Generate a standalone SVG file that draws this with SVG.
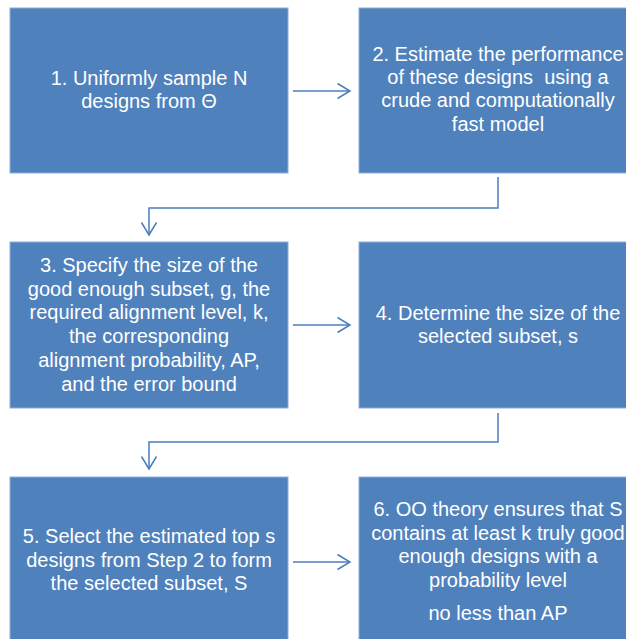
<svg xmlns="http://www.w3.org/2000/svg" width="626" height="639" viewBox="0 0 626 639">
<style>
.box{fill:#4F81BD;stroke:#8FAEDB;stroke-width:1}
.t{font-family:"Liberation Sans",Arial,sans-serif;font-size:20px;fill:#FFFFFF;text-anchor:middle}
.c{fill:none;stroke:#4A7EBB;stroke-width:1.5}
</style>
<defs>
<marker id="arr" viewBox="0 0 16 18" refX="14" refY="9" markerWidth="16" markerHeight="18" markerUnits="userSpaceOnUse" orient="auto">
<path d="M1.5,1.5 L14,9 L1.5,16.5" fill="none" stroke="#4A7EBB" stroke-width="1.5"/>
</marker>
</defs>
<rect width="626" height="639" fill="#FFFFFF"/>
<g id="node1">
<rect class="box" x="10" y="8" width="278" height="165"/>
<text class="t"><tspan x="149" y="85">1. Uniformly sample N</tspan><tspan x="149" y="108">designs from Θ</tspan></text>
</g>
<g id="node2">
<rect class="box" x="359" y="8" width="278" height="165"/>
<text class="t" xml:space="preserve"><tspan x="498" y="61">2. Estimate the performance</tspan><tspan x="498" y="84">of these designs  using a</tspan><tspan x="498" y="107">crude and computationally</tspan><tspan x="498" y="131">fast model</tspan></text>
</g>
<g id="node3">
<rect class="box" x="10" y="242" width="278" height="166"/>
<text class="t"><tspan x="149" y="272">3. Specify the size of the</tspan><tspan x="149" y="296">good enough subset, g, the</tspan><tspan x="149" y="319">required alignment level, k,</tspan><tspan x="149" y="343">the corresponding</tspan><tspan x="149" y="367">alignment probability, AP,</tspan><tspan x="149" y="391">and the error bound</tspan></text>
</g>
<g id="node4">
<rect class="box" x="359" y="242" width="278" height="166"/>
<text class="t"><tspan x="498" y="320">4. Determine the size of the</tspan><tspan x="498" y="343">selected subset, s</tspan></text>
</g>
<g id="node5">
<rect class="box" x="10" y="477" width="278" height="170"/>
<text class="t"><tspan x="149" y="543">5. Select the estimated top s</tspan><tspan x="149" y="567">designs from Step 2 to form</tspan><tspan x="149" y="590">the selected subset, S</tspan></text>
</g>
<g id="node6">
<rect class="box" x="359" y="477" width="278" height="170"/>
<text class="t"><tspan x="498" y="516">6. OO theory ensures that S</tspan><tspan x="498" y="540">contains at least k truly good</tspan><tspan x="498" y="563">enough designs with a</tspan><tspan x="498" y="587">probability level</tspan><tspan x="498" y="620">no less than AP</tspan></text>
</g>
<g id="connectors">
<path class="c" d="M293,91 H350" marker-end="url(#arr)"/>
<path class="c" d="M498,177 V208 H149 V235" marker-end="url(#arr)"/>
<path class="c" d="M293,325 H350" marker-end="url(#arr)"/>
<path class="c" d="M498,413 V442 H149 V469" marker-end="url(#arr)"/>
<path class="c" d="M293,562 H350" marker-end="url(#arr)"/>
</g>
</svg>
